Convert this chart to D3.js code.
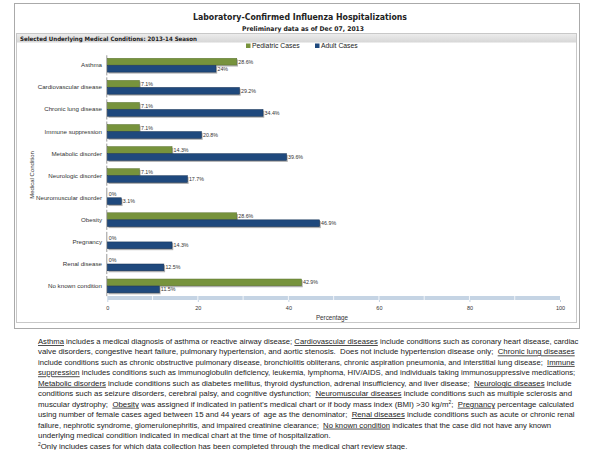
<!DOCTYPE html>
<html>
<head>
<meta charset="utf-8">
<script src="https://cdn.jsdelivr.net/npm/d3@7"></script>
<style>
  body { margin: 0; background: #fff; }
  svg { display: block; }
</style>
</head>
<body>
<div id="chart"></div>
<script>
// canvas size
const width = 600;
const height = 450;

// categories (top to bottom)
const conditions = [
  "Asthma", "Cardiovascular disease", "Chronic lung disease", "Immune suppression",
  "Metabolic disorder", "Neurologic disorder", "Neuromuscular disorder", "Obesity",
  "Pregnancy", "Renal disease", "No known condition"
];
// series values (percent)
const pediatric = [28.6, 7.1, 7.1, 7.1, 14.3, 7.1, 0, 28.6, 0, 0, 42.9];
const adult = [24, 29.2, 34.4, 20.8, 39.6, 17.7, 3.1, 46.9, 14.3, 12.5, 11.5];
const seriesNames = ["Pediatric Cases", "Adult Cases"];
const xTicks = [0, 20, 40, 60, 80, 100];

const green = "#77933c";
const blue = "#1f497d";

const svg = d3.select("#chart")
  .append("svg")
  .attr("width", width)
  .attr("height", height);

// outer frame + panel
svg.append("rect")
  .attr("x", 14.5).attr("y", 3.5)
  .attr("width", 565).attr("height", 325)
  .attr("fill", "#fff").attr("stroke", "#aaa");
svg.append("rect")
  .attr("x", 16.5).attr("y", 33.5)
  .attr("width", 560).attr("height", 289)
  .attr("fill", "#fff").attr("stroke", "#c8c8c8");

// header bar gradient
const defs = svg.append("defs");
const grad = defs.append("linearGradient").attr("id", "hdr")
  .attr("x1", 0).attr("x2", 0).attr("y1", 0).attr("y2", 1);
grad.append("stop").attr("offset", "0%").attr("stop-color", "#ececec");
grad.append("stop").attr("offset", "100%").attr("stop-color", "#d6d6d6");

svg.append("rect")
  .attr("x", 17).attr("y", 34)
  .attr("width", 559).attr("height", 8.5)
  .attr("fill", "url(#hdr)");

svg.append("text")
  .attr("x", 20).attr("y", 40.5)
  .attr("font-family", "DejaVu Sans, Verdana, sans-serif")
  .attr("font-weight", "bold")
  .attr("font-size", "6px")
  .attr("textLength", 177).attr("lengthAdjust", "spacingAndGlyphs")
  .attr("fill", "#222")
  .text("Selected Underlying Medical Conditions: 2013-14 Season");

// titles
svg.append("text")
  .attr("x", 300).attr("y", 20)
  .attr("text-anchor", "middle")
  .attr("font-family", "DejaVu Sans, Verdana, sans-serif")
  .attr("font-weight", "bold")
  .attr("font-size", "9.5px")
  .attr("textLength", 214).attr("lengthAdjust", "spacingAndGlyphs")
  .attr("fill", "#222")
  .text("Laboratory-Confirmed Influenza Hospitalizations");
svg.append("text")
  .attr("x", 303).attr("y", 31)
  .attr("text-anchor", "middle")
  .attr("font-family", "DejaVu Sans, Verdana, sans-serif")
  .attr("font-weight", "bold")
  .attr("font-size", "6.5px")
  .attr("textLength", 122).attr("lengthAdjust", "spacingAndGlyphs")
  .attr("fill", "#222")
  .text("Preliminary data as of Dec 07, 2013");

// scales
const x = d3.scaleLinear().domain([0, 100]).range([107.3, 560]);
const y = d3.scaleBand()
  .domain(conditions)
  .range([54.3, 297.1])
  .paddingInner(0.36)
  .paddingOuter(0.18);
const half = y.bandwidth() / 2;

// legend
const legend = svg.append("g").attr("transform", "translate(246,46)");
const legendX = [0, 69];
legend.selectAll("rect")
  .data(seriesNames)
  .enter()
  .append("rect")
  .attr("x", (d, i) => legendX[i])
  .attr("y", -2.5)
  .attr("width", 4.5).attr("height", 4.5)
  .attr("fill", (d, i) => i === 0 ? green : blue);
legend.selectAll("text")
  .data(seriesNames)
  .enter()
  .append("text")
  .attr("x", (d, i) => legendX[i] + 6)
  .attr("y", 2.2)
  .attr("font-family", "Liberation Sans, Arial, sans-serif")
  .attr("font-size", "6.8px")
  .attr("fill", "#222")
  .text(d => d);

// y axis segments
svg.selectAll(".yseg")
  .data(conditions)
  .enter()
  .append("line")
  .attr("class", "yseg")
  .attr("x1", x(0) - 0.5).attr("x2", x(0) - 0.5)
  .attr("y1", d => y(d) - 3)
  .attr("y2", d => y(d) + y.bandwidth() + 3)
  .attr("stroke", "#999")
  .attr("stroke-width", 1);

// category labels
svg.selectAll(".ylab")
  .data(conditions)
  .enter()
  .append("text")
  .attr("class", "ylab")
  .attr("x", 102)
  .attr("y", d => y(d) + half + 2)
  .attr("text-anchor", "end")
  .attr("font-family", "Liberation Sans, Arial, sans-serif")
  .attr("font-size", "6.2px")
  .attr("fill", "#333")
  .text(d => d);

// axis title (rotated)
svg.append("text")
  .attr("transform", "translate(34,175) rotate(-90)")
  .attr("text-anchor", "middle")
  .attr("font-family", "Liberation Sans, Arial, sans-serif")
  .attr("font-size", "6px")
  .attr("fill", "#333")
  .text("Medical Condition");

// bars
const rows = conditions.map((c, i) => ({ c, ped: pediatric[i], adu: adult[i] }));
const series = [
  { key: "ped", color: green, stroke: "#5b7330", off: 0 },
  { key: "adu", color: blue, stroke: "#132f52", off: half }
];

series.forEach(s => {
  // shadow
  svg.selectAll(".sh-" + s.key)
    .data(rows.filter(d => d[s.key] > 0))
    .enter()
    .append("rect")
    .attr("x", x(0) + 1.2)
    .attr("y", d => y(d.c) + s.off + 1.2)
    .attr("width", d => x(d[s.key]) - x(0))
    .attr("height", half)
    .attr("fill", "#b0b0b0");
  svg.selectAll(".bar-" + s.key)
    .data(rows.filter(d => d[s.key] > 0))
    .enter()
    .append("rect")
    .attr("x", x(0))
    .attr("y", d => y(d.c) + s.off)
    .attr("width", d => x(d[s.key]) - x(0))
    .attr("height", half - 0.3)
    .attr("fill", s.color)
    .attr("stroke", s.stroke)
    .attr("stroke-width", 0.5);
  svg.selectAll(".lab-" + s.key)
    .data(rows)
    .enter()
    .append("text")
    .attr("x", d => x(d[s.key]) + 1.5)
    .attr("y", d => y(d.c) + s.off + half / 2 + 1.8)
    .attr("font-family", "Liberation Sans, Arial, sans-serif")
    .attr("font-size", "5.3px")
    .attr("fill", "#333")
    .text(d => d[s.key] + "%");
});

// x axis band
svg.append("rect")
  .attr("x", x(0)).attr("y", 296)
  .attr("width", x(100) - x(0)).attr("height", 4)
  .attr("fill", "#c5d4e4");
svg.selectAll(".minor")
  .data(d3.range(10, 100, 10))
  .enter()
  .append("line")
  .attr("class", "minor")
  .attr("x1", d => x(d)).attr("x2", d => x(d))
  .attr("y1", 296).attr("y2", 300)
  .attr("stroke", "#fff").attr("stroke-width", 0.8);

const xAxis = svg.append("g")
  .attr("transform", "translate(0,300)")
  .call(d3.axisBottom(x).tickValues(xTicks).tickSize(2).tickFormat(d3.format("d")));
xAxis.select(".domain").remove();
xAxis.selectAll("line").attr("stroke", "#c5d4e4");
xAxis.selectAll("text")
  .attr("font-family", "Liberation Sans, Arial, sans-serif")
  .attr("font-size", "5.5px")
  .attr("fill", "#333")
  .attr("dy", "0.9em");

svg.append("text")
  .attr("x", 332).attr("y", 320)
  .attr("text-anchor", "middle")
  .attr("font-family", "Liberation Sans, Arial, sans-serif")
  .attr("font-size", "6.3px")
  .attr("fill", "#333")
  .text("Percentage");

// footnote lines: [segment text, 0 plain / 1 underlined / 2 superscript]
const notes = [
  [["Asthma", 1], [" includes a medical diagnosis of asthma or reactive airway disease; ", 0], ["Cardiovascular diseases", 1], [" include conditions such as coronary heart disease, cardiac", 0]],
  [["valve disorders, congestive heart failure, pulmonary hypertension, and aortic stenosis.  Does not include hypertension disease only;  ", 0], ["Chronic lung diseases", 1]],
  [["include conditions such as chronic obstructive pulmonary disease, bronchiolitis obliterans, chronic aspiration pneumonia, and interstitial lung disease;  ", 0], ["Immune", 1]],
  [["suppression", 1], [" includes conditions such as immunoglobulin deficiency, leukemia, lymphoma, HIV/AIDS, and individuals taking immunosuppressive medications;", 0]],
  [["Metabolic disorders", 1], [" include conditions such as diabetes mellitus, thyroid dysfunction, adrenal insufficiency, and liver disease;  ", 0], ["Neurologic diseases", 1], [" include", 0]],
  [["conditions such as seizure disorders, cerebral palsy, and cognitive dysfunction;  ", 0], ["Neuromuscular diseases", 1], [" include conditions such as multiple sclerosis and", 0]],
  [["muscular dystrophy;  ", 0], ["Obesity", 1], [" was assigned if indicated in patient\u2019s medical chart or if body mass index (BMI) >30 kg/m", 0], ["2", 2], [";  ", 0], ["Pregnancy", 1], [" percentage calculated", 0]],
  [["using number of female cases aged between 15 and 44 years of  age as the denominator;  ", 0], ["Renal diseases", 1], [" include conditions such as acute or chronic renal", 0]],
  [["failure, nephrotic syndrome, glomerulonephritis, and impaired creatinine clearance;  ", 0], ["No known condition", 1], [" indicates that the case did not have any known", 0]],
  [["underlying medical condition indicated in medical chart at the time of hospitalization.", 0]],
  [["2", 2], ["Only includes cases for which data collection has been completed through the medical chart review stage.", 0]]
];
const noteEnds = [579, 576, 575, 576, 573, 573, 575, 576, 552, 331, 408];
const noteX = 38;

// each line is drawn at natural width, then squeezed horizontally to fit
notes.forEach((line, i) => {
  const g = svg.append("g");
  const t = g.append("text")
    .attr("x", 0)
    .attr("y", 0)
    .attr("font-family", "Liberation Sans, Arial, sans-serif")
    .attr("font-size", "8px")
    .attr("fill", "#222")
    .attr("xml:space", "preserve");
  line.forEach(seg => {
    const ts = t.append("tspan").text(seg[0]);
    if (seg[1] === 1) ts.attr("text-decoration", "underline");
    if (seg[1] === 2) ts.attr("dy", -3).attr("font-size", "5px");
    if (seg[1] !== 2 && seg !== line[0] && line[line.indexOf(seg) - 1][1] === 2) ts.attr("dy", 3);
  });
  const w = t.node().getComputedTextLength();
  const sx = (noteEnds[i] - noteX) / w;
  g.attr("transform", `translate(${noteX},${344 + i * 10.45}) scale(${sx},1)`);
});
</script>
</body>
</html>
